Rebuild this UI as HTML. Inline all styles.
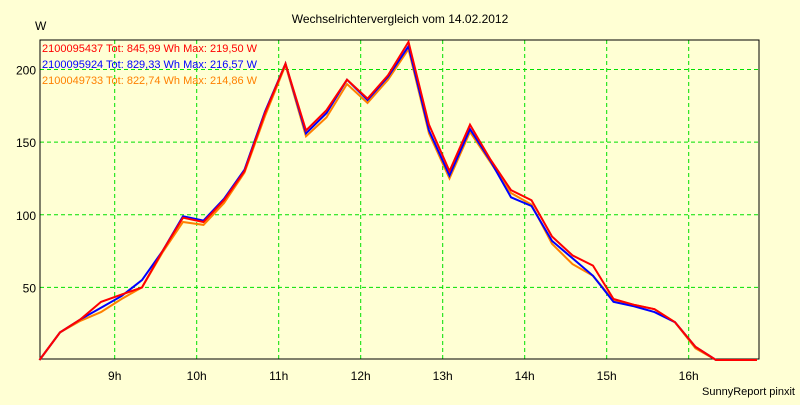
<!DOCTYPE html>
<html><head><meta charset="utf-8"><style>
body{margin:0;background:#ffffd4;font-family:"Liberation Sans",sans-serif}
svg text{font-family:"Liberation Sans",sans-serif}
</style></head><body>
<svg width="800" height="400" xmlns="http://www.w3.org/2000/svg">
<rect width="800" height="400" fill="#ffffd4"/>
<text x="400" y="23" font-size="12" text-anchor="middle">Wechselrichtervergleich vom 14.02.2012</text>
<text x="35" y="30" font-size="12">W</text>
<text x="795" y="395" font-size="11" text-anchor="end">SunnyReport pinxit</text>
<g id="grid"></g><g id="axes"></g><g id="series"></g><g id="legend"></g>
</svg>
<script>
const times=[];
const yTicks=[50,100,150,200];
const xTickHours=[9,10,11,12,13,14,15,16];
const seriesNames=["2100095437 Tot: 845,99 Wh Max: 219,50 W","2100095924 Tot: 829,33 Wh Max: 216,57 W","2100049733 Tot: 822,74 Wh Max: 214,86 W"];
const seriesColors=["#ff0000","#0000ff","#ff8000"];
const red=[0,19,28,40,45,50,75,98,95,110,130,170,204,158,172,193,180,196,219,162,130,162,138,117,110,85,72,65,42,38,35,26,9,0,0,0];
const blue=[0,19,28,36,44,55,75,99,96,111,131,171,204,156,170,193,179,195,216,158,127,159,137,112,106,82,70,58,40,37,33,26,9,0,0,0];
const orange=[0,19,27,33,42,50,74,95,93,108,129,168,203,154,167,190,177,193,214,156,125,157,136,115,107,80,66,58,41,38,35,26,8,0,0,0];
const startHour=8+5/60, stepHour=0.25;
const L=40,T=40,R=759,B=359;
function xs(h){return 114.7+(h-9)*82;}
function ys(v){return 360-v*1.4525;}
const NS="http://www.w3.org/2000/svg";
function mk(tag,attrs,parent){const e=document.createElementNS(NS,tag);for(const k in attrs)e.setAttribute(k,attrs[k]);parent.appendChild(e);return e;}
const grid=document.getElementById('grid'),axes=document.getElementById('axes');
yTicks.forEach(v=>{
 const l=mk('line',{x1:L,x2:R,y1:ys(v),y2:ys(v),stroke:'#00e000','stroke-dasharray':'4,3'},grid);
 
 
 const t=mk('text',{x:L-4,y:ys(v)+5,'font-size':12,'text-anchor':'end'},axes);t.textContent=v;
 
 
});
xTickHours.forEach(h=>{
 const l=mk('line',{x1:xs(h),x2:xs(h),y1:T,y2:B,stroke:'#00e000','stroke-dasharray':'4,3'},grid);
 
 
 const t=mk('text',{x:xs(h),y:380,'font-size':12,'text-anchor':'middle'},axes);t.textContent=h+'h';
 
 
});
const fr=mk('rect',{x:L,y:T,width:R-L,height:B-T,fill:'none',stroke:'#000'},axes);


const sg=document.getElementById('series');
[orange,blue,red].forEach((d,k)=>{
 const idx=2-k;
 const pts=d.map((v,i)=>xs(startHour+i*stepHour).toFixed(1)+','+ys(v).toFixed(1)).join(' ');
 const p=mk('polyline',{points:pts,fill:'none',stroke:seriesColors[idx],'stroke-width':2},sg);
 
 
});
const lg=document.getElementById('legend');
seriesNames.forEach((n,i)=>{
 const t=mk('text',{x:42,y:52+i*16,'font-size':11,fill:seriesColors[i]},lg);t.textContent=n;
 
 
});
</script>
</body></html>
